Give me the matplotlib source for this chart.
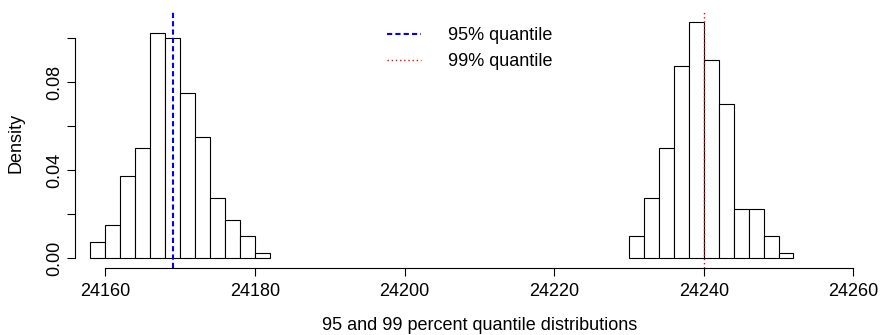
import numpy as np
import matplotlib
matplotlib.use("Agg")
import matplotlib.pyplot as plt

plt.rcParams['font.family'] = ['Liberation Sans', 'DejaVu Sans']

# histogram counts, 200 draws each, bins of width 2
q95_edges = np.arange(24158, 24182 + 1, 2)
q95_counts = np.array([3, 6, 15, 20, 41, 40, 30, 22, 11, 7, 4, 1])
q99_edges = np.arange(24230, 24252 + 1, 2)
q99_counts = np.array([4, 11, 20, 35, 43, 36, 28, 9, 9, 4, 1])

q95_value = 24169
q99_value = 24240

x_ticks = [24160, 24180, 24200, 24220, 24240, 24260]
y_ticks = [0.00, 0.02, 0.04, 0.06, 0.08, 0.10]
y_ticklabels = ["0.00", "", "0.04", "", "0.08", ""]


def density(counts, edges):
    width = edges[1] - edges[0]
    return counts / (counts.sum() * width)


W, H = 880, 335
fig = plt.figure(figsize=(W / 100, H / 100), dpi=100)
left_px, right_px, top_px, bot_px = 75.4, 880, 12.4, 267.8
ax = fig.add_axes([left_px / W, 1 - bot_px / H,
                   (right_px - left_px) / W, (bot_px - top_px) / H])

for counts, edges in [(q95_counts, q95_edges), (q99_counts, q99_edges)]:
    ax.bar(edges[:-1], density(counts, edges), width=np.diff(edges),
           align='edge', facecolor='white', edgecolor='black', linewidth=0.8)

ax.axvline(q95_value, color='#0000ff', lw=1.5, linestyle=(0, (2.5, 1.5)),
           label='95% quantile')
ax.axvline(q99_value, color='#ff0000', lw=1.0, linestyle=(0, (1, 2)),
           label='99% quantile')

ax.set_xlim(24156, 24156 + (right_px - left_px) / 7.48)
ax.set_ylim(-0.0043, 0.1118)

for s in ['top', 'right']:
    ax.spines[s].set_visible(False)
ax.spines['bottom'].set_bounds(24160, 24260)
ax.spines['left'].set_bounds(0, 0.10)
for s in ['bottom', 'left']:
    ax.spines[s].set_linewidth(0.8)

ax.set_xticks(x_ticks)
ax.set_xticklabels([str(t) for t in x_ticks])
ax.set_yticks(y_ticks)
ax.set_yticklabels(y_ticklabels, rotation=90, va='center')
ax.tick_params(axis='both', length=6, width=0.8, labelsize=13)
ax.tick_params(axis='x', pad=5)
ax.tick_params(axis='y', pad=3)

ax.set_xlabel('95 and 99 percent quantile distributions', fontsize=13, va='center')
ax.xaxis.set_label_coords(0.502, (bot_px - 325.7) / (bot_px - top_px))
ax.set_ylabel('Density', fontsize=13, va='center')
ax.yaxis.set_label_coords((15.7 - left_px) / (right_px - left_px), 0.487)

ax.legend(loc='upper left', bbox_to_anchor=(386.7 / W, 1 - 27 / H),
          bbox_transform=fig.transFigure, frameon=False, fontsize=13,
          handlelength=1.9, handletextpad=1.5, borderpad=0,
          borderaxespad=0, labelspacing=0.5)

fig.savefig('out.png', dpi=100)
